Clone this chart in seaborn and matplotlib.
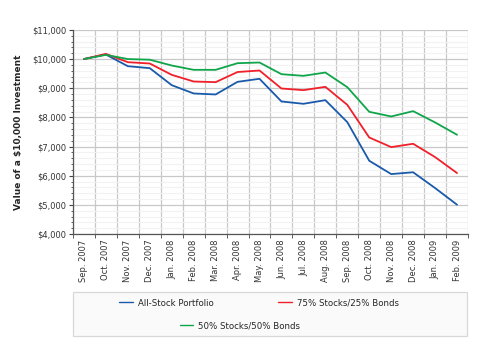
import numpy as np
import pandas as pd
import seaborn as sns
import matplotlib.pyplot as plt
from matplotlib.patches import Rectangle
from matplotlib.lines import Line2D

months = ['Sep. 2007', 'Oct. 2007', 'Nov. 2007', 'Dec. 2007', 'Jan. 2008', 'Feb. 2008',
          'Mar. 2008', 'Apr. 2008', 'May. 2008', 'Jun. 2008', 'Jul. 2008', 'Aug. 2008',
          'Sep. 2008', 'Oct. 2008', 'Nov. 2008', 'Dec. 2008', 'Jan. 2009', 'Feb. 2009']
all_stock = [10000, 10155, 9755, 9687, 9104, 8819, 8785, 9219, 9322, 8545, 8465, 8590,
             7836, 6512, 6055, 6117, 5576, 5005]
stocks_75 = [10000, 10178, 9892, 9847, 9458, 9230, 9207, 9555, 9607, 8990, 8933, 9047,
             8430, 7310, 6980, 7094, 6638, 6090]
stocks_50 = [10000, 10143, 10000, 9977, 9778, 9630, 9630, 9858, 9881, 9481, 9424, 9538,
             9036, 8190, 8031, 8213, 7826, 7403]
series_names = ['All-Stock Portfolio', '75% Stocks/25% Bonds', '50% Stocks/50% Bonds']
colors = ['#1a5aab', '#f0202a', '#10a54a']

df = pd.concat([
    pd.DataFrame({'pos': np.arange(len(months)), 'value': vals, 'series': name})
    for name, vals in zip(series_names, [all_stock, stocks_75, stocks_50])
])

sns.set_style('white')
plt.rcParams['font.family'] = ['DejaVu Sans']

fig = plt.figure(figsize=(4.8, 3.6), dpi=100)
ax = fig.add_axes([0.152, 0.35, 0.823, 0.567])

# gridlines
ax.set_ylim(4000, 11000)
ax.set_xlim(-0.5, len(months) - 0.5)
ax.set_yticks(np.arange(4000, 11001, 1000))
ax.set_yticks(np.arange(4000, 11001, 200), minor=True)
ax.set_xticks(np.arange(len(months)))
ax.set_xticks(np.arange(-0.5, len(months), 1.0), minor=True)
ax.grid(axis='y', which='minor', color='#f2f2f2', lw=0.8, zorder=0)
ax.grid(axis='y', which='major', color='#c8c8c8', lw=0.9, zorder=0)
ax.grid(axis='x', which='minor', color='#c8c8c8', lw=0.9, zorder=0)
ax.set_axisbelow(True)

sns.lineplot(data=df, x='pos', y='value', hue='series', palette=colors,
             hue_order=series_names, lw=1.3, ax=ax, legend=False, zorder=3)

ax.set_xticklabels(months, rotation=90, fontsize=6, color='#333333')
ax.set_yticklabels(['${:,}'.format(v) for v in range(4000, 11001, 1000)],
                   fontsize=6, color='#333333')
ax.tick_params(axis='x', which='major', length=0, pad=4)
ax.tick_params(axis='x', which='minor', length=3, color='#444444', direction='out', bottom=True)
ax.tick_params(axis='y', which='major', length=3, color='#444444', direction='out', left=True, pad=2)
ax.tick_params(axis='y', which='minor', length=1.5, color='#444444', direction='out', left=True)
ax.set_xlabel('')
ax.set_ylabel('Value of a $10,000 Investment', fontsize=6.5, fontweight='bold', labelpad=6)

for s in ['top', 'right']:
    ax.spines[s].set_visible(False)
for s in ['left', 'bottom']:
    ax.spines[s].set_color('#555555')
    ax.spines[s].set_linewidth(0.9)

# legend box
box = Rectangle((73 / 480, 1 - 336 / 360), (467 - 73) / 480, (336 - 292) / 360,
                transform=fig.transFigure, facecolor='#fafafa', edgecolor='#d8d8d8', lw=0.9)
fig.patches.append(box)
handles = [Line2D([0], [0], color=c, lw=1) for c in colors]
leg1 = fig.legend(handles[:2], series_names[:2], ncol=2, loc='center',
                  bbox_to_anchor=(0.54, 1 - 303 / 360), frameon=False, fontsize=6.2,
                  handlelength=1.6, handletextpad=0.6, columnspacing=7.5)
leg2 = fig.legend(handles[2:], series_names[2:], loc='center',
                  bbox_to_anchor=(0.5, 1 - 326 / 360), frameon=False, fontsize=6.2,
                  handlelength=1.6, handletextpad=0.6)

fig.savefig('out.png', dpi=100)
